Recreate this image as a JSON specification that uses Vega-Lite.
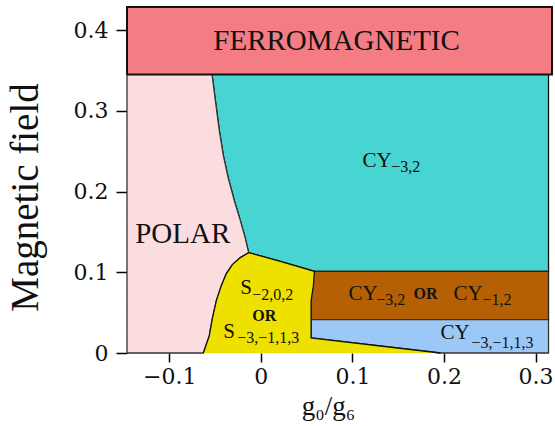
{
  "$schema": "https://vega.github.io/schema/vega-lite/v6.json",
  "width": 425,
  "height": 346,
  "autosize": {"type": "none"},
  "padding": {"left": 127, "top": 7, "right": 3, "bottom": 73},
  "config": {"view": {"stroke": null}, "font": "Liberation Serif"},
  "datasets": {
    "regions": [
      {"region": "cyan", "i": 1, "x": -0.0533, "y": 0.3453},
      {"region": "cyan", "i": 2, "x": 0.3142, "y": 0.3453},
      {"region": "cyan", "i": 3, "x": 0.3142, "y": 0.1012},
      {"region": "cyan", "i": 4, "x": 0.0585, "y": 0.1012},
      {"region": "cyan", "i": 5, "x": 0.0213, "y": 0.1136},
      {"region": "cyan", "i": 6, "x": -0.0133, "y": 0.1244},
      {"region": "cyan", "i": 7, "x": -0.0169, "y": 0.1418},
      {"region": "cyan", "i": 8, "x": -0.0224, "y": 0.1641},
      {"region": "cyan", "i": 9, "x": -0.029, "y": 0.189},
      {"region": "cyan", "i": 10, "x": -0.0355, "y": 0.2163},
      {"region": "cyan", "i": 11, "x": -0.041, "y": 0.2448},
      {"region": "cyan", "i": 12, "x": -0.0454, "y": 0.2758},
      {"region": "cyan", "i": 13, "x": -0.0497, "y": 0.313},
      {"region": "cyan", "i": 14, "x": -0.0533, "y": 0.3453},

      {"region": "polar", "i": 1, "x": -0.1462, "y": 0},
      {"region": "polar", "i": 2, "x": -0.1462, "y": 0.3453},
      {"region": "polar", "i": 3, "x": -0.0533, "y": 0.3453},
      {"region": "polar", "i": 4, "x": -0.0497, "y": 0.313},
      {"region": "polar", "i": 5, "x": -0.0454, "y": 0.2758},
      {"region": "polar", "i": 6, "x": -0.041, "y": 0.2448},
      {"region": "polar", "i": 7, "x": -0.0355, "y": 0.2163},
      {"region": "polar", "i": 8, "x": -0.029, "y": 0.189},
      {"region": "polar", "i": 9, "x": -0.0224, "y": 0.1641},
      {"region": "polar", "i": 10, "x": -0.0169, "y": 0.1418},
      {"region": "polar", "i": 11, "x": -0.0133, "y": 0.1244},
      {"region": "polar", "i": 12, "x": -0.0224, "y": 0.1182},
      {"region": "polar", "i": 13, "x": -0.0311, "y": 0.1096},
      {"region": "polar", "i": 14, "x": -0.0377, "y": 0.0984},
      {"region": "polar", "i": 15, "x": -0.0432, "y": 0.0835},
      {"region": "polar", "i": 16, "x": -0.0486, "y": 0.0649},
      {"region": "polar", "i": 17, "x": -0.053, "y": 0.0426},
      {"region": "polar", "i": 18, "x": -0.0563, "y": 0.0215},
      {"region": "polar", "i": 19, "x": -0.0628, "y": 0},
      {"region": "polar", "i": 20, "x": -0.1462, "y": 0},

      {"region": "brown", "i": 1, "x": 0.0549, "y": 0.1012},
      {"region": "brown", "i": 2, "x": 0.3142, "y": 0.1012},
      {"region": "brown", "i": 3, "x": 0.3142, "y": 0.0413},
      {"region": "brown", "i": 4, "x": 0.0549, "y": 0.0413},
      {"region": "brown", "i": 5, "x": 0.0549, "y": 0.1012},

      {"region": "blue", "i": 1, "x": 0.0549, "y": 0.0413},
      {"region": "blue", "i": 2, "x": 0.3142, "y": 0.0413},
      {"region": "blue", "i": 3, "x": 0.3142, "y": 0},
      {"region": "blue", "i": 4, "x": 0.1962, "y": 0},
      {"region": "blue", "i": 5, "x": 0.0549, "y": 0.0186},
      {"region": "blue", "i": 6, "x": 0.0549, "y": 0.0413},

      {"region": "yellow", "i": 1, "x": -0.0628, "y": 0},
      {"region": "yellow", "i": 2, "x": -0.0563, "y": 0.0215},
      {"region": "yellow", "i": 3, "x": -0.053, "y": 0.0426},
      {"region": "yellow", "i": 4, "x": -0.0486, "y": 0.0649},
      {"region": "yellow", "i": 5, "x": -0.0432, "y": 0.0835},
      {"region": "yellow", "i": 6, "x": -0.0377, "y": 0.0984},
      {"region": "yellow", "i": 7, "x": -0.0311, "y": 0.1096},
      {"region": "yellow", "i": 8, "x": -0.0224, "y": 0.1182},
      {"region": "yellow", "i": 9, "x": -0.0133, "y": 0.1244},
      {"region": "yellow", "i": 10, "x": 0.0213, "y": 0.1136},
      {"region": "yellow", "i": 11, "x": 0.0585, "y": 0.1012},
      {"region": "yellow", "i": 12, "x": 0.0574, "y": 0.0835},
      {"region": "yellow", "i": 13, "x": 0.0549, "y": 0.0649},
      {"region": "yellow", "i": 14, "x": 0.0549, "y": 0.0186},
      {"region": "yellow", "i": 15, "x": 0.1962, "y": 0},

      {"region": "ferro", "i": 1, "x": -0.1462, "y": 0.3453},
      {"region": "ferro", "i": 2, "x": 0.318, "y": 0.3453},
      {"region": "ferro", "i": 3, "x": 0.318, "y": 0.4288},
      {"region": "ferro", "i": 4, "x": -0.1462, "y": 0.4288},
      {"region": "ferro", "i": 5, "x": -0.1462, "y": 0.3453}
    ],
    "labels": [
      {"kind": "big", "text": "FERROMAGNETIC", "x": -0.0519, "y": 0.375},
      {"kind": "big", "text": "POLAR", "x": -0.1372, "y": 0.1368},
      {"kind": "main", "text": "CY", "x": 0.1109, "y": 0.2311},
      {"kind": "main", "text": "CY", "x": 0.0956, "y": 0.066},
      {"kind": "main", "text": "CY", "x": 0.2104, "y": 0.066},
      {"kind": "main", "text": "CY", "x": 0.1962, "y": 0.0178},
      {"kind": "main", "text": "S", "x": -0.0224, "y": 0.0736},
      {"kind": "main", "text": "S", "x": -0.041, "y": 0.019},
      {"kind": "sub", "text": "−3,2", "x": 0.1425, "y": 0.2237},
      {"kind": "sub", "text": "−3,2", "x": 0.1261, "y": 0.059},
      {"kind": "sub", "text": "−1,2", "x": 0.242, "y": 0.059},
      {"kind": "sub", "text": "−3,−1,1,3", "x": 0.23, "y": 0.0066},
      {"kind": "sub", "text": "−2,0,2", "x": -0.0093, "y": 0.0661},
      {"kind": "sub", "text": "−3,−1,1,3", "x": -0.0257, "y": 0.0128},
      {"kind": "or", "text": "OR", "x": 0.1667, "y": 0.0674},
      {"kind": "or", "text": "OR", "x": -0.0093, "y": 0.0401}
    ]
  },
  "encoding": {
    "x": {
      "field": "x", "type": "quantitative",
      "scale": {"domain": [-0.1462, 0.318], "nice": false, "zero": false},
      "axis": {
        "values": [-0.1, 0, 0.1, 0.2, 0.3], "format": "~g",
        "domain": false, "grid": false,
        "tickSize": 9, "tickColor": "black", "tickWidth": 1.5,
        "labelFont": "DejaVu Serif", "labelFontSize": 22, "labelColor": "#111", "labelPadding": 4,
        "title": "g₀/g₆", "titleFont": "Liberation Serif", "titleFontSize": 27, "titleFontWeight": "normal",
        "titleColor": "#111", "titleX": 201, "titleY": 61, "titleBaseline": "alphabetic", "titleAlign": "center"
      }
    },
    "y": {
      "field": "y", "type": "quantitative",
      "scale": {"domain": [0, 0.4288], "nice": false, "zero": false},
      "axis": {
        "values": [0, 0.1, 0.2, 0.3, 0.4], "format": "~g",
        "domain": false, "grid": false,
        "tickSize": 11, "tickColor": "black", "tickWidth": 1.5,
        "labelFont": "DejaVu Serif", "labelFontSize": 22, "labelColor": "#111", "labelPadding": 8,
        "title": "Magnetic field", "titleFont": "Liberation Serif", "titleFontSize": 39, "titleFontWeight": "normal",
        "titleColor": "#111", "titleX": -90, "titleY": 190, "titleAngle": -90, "titleBaseline": "alphabetic", "titleAlign": "center"
      }
    }
  },
  "layer": [
    {"data": {"name": "regions"}, "transform": [{"filter": "datum.region === 'cyan'"}],
     "mark": {"type": "line", "fill": "#48d4d0", "stroke": "#111", "strokeWidth": 1.3},
     "encoding": {"order": {"field": "i", "type": "quantitative"}}},
    {"data": {"name": "regions"}, "transform": [{"filter": "datum.region === 'polar'"}],
     "mark": {"type": "line", "fill": "#fbdde0", "stroke": "#333", "strokeWidth": 1.3},
     "encoding": {"order": {"field": "i", "type": "quantitative"}}},
    {"data": {"name": "regions"}, "transform": [{"filter": "datum.region === 'brown'"}],
     "mark": {"type": "line", "fill": "#b56005", "stroke": "#222", "strokeWidth": 1.3},
     "encoding": {"order": {"field": "i", "type": "quantitative"}}},
    {"data": {"name": "regions"}, "transform": [{"filter": "datum.region === 'blue'"}],
     "mark": {"type": "line", "fill": "#9cc8f8", "stroke": "#333", "strokeWidth": 1.3},
     "encoding": {"order": {"field": "i", "type": "quantitative"}}},
    {"data": {"name": "regions"}, "transform": [{"filter": "datum.region === 'yellow'"}],
     "mark": {"type": "line", "fill": "#eee100", "stroke": "#111", "strokeWidth": 1.3},
     "encoding": {"order": {"field": "i", "type": "quantitative"}}},
    {"data": {"name": "regions"}, "transform": [{"filter": "datum.region === 'ferro'"}],
     "mark": {"type": "line", "fill": "#f47c85", "stroke": "#111", "strokeWidth": 2},
     "encoding": {"order": {"field": "i", "type": "quantitative"}}},
    {"data": {"name": "labels"}, "transform": [{"filter": "datum.kind === 'big'"}],
     "mark": {"type": "text", "align": "left", "baseline": "alphabetic", "font": "Liberation Serif", "fontSize": 29, "color": "#111"},
     "encoding": {"text": {"field": "text"}}},
    {"data": {"name": "labels"}, "transform": [{"filter": "datum.kind === 'main'"}],
     "mark": {"type": "text", "align": "left", "baseline": "alphabetic", "font": "Liberation Serif", "fontSize": 21, "color": "#111"},
     "encoding": {"text": {"field": "text"}}},
    {"data": {"name": "labels"}, "transform": [{"filter": "datum.kind === 'sub'"}],
     "mark": {"type": "text", "align": "left", "baseline": "alphabetic", "font": "Liberation Serif", "fontSize": 16, "color": "#111"},
     "encoding": {"text": {"field": "text"}}},
    {"data": {"name": "labels"}, "transform": [{"filter": "datum.kind === 'or'"}],
     "mark": {"type": "text", "align": "left", "baseline": "alphabetic", "font": "Liberation Serif", "fontSize": 16, "fontWeight": "bold", "color": "#111"},
     "encoding": {"text": {"field": "text"}}}
  ]
}
